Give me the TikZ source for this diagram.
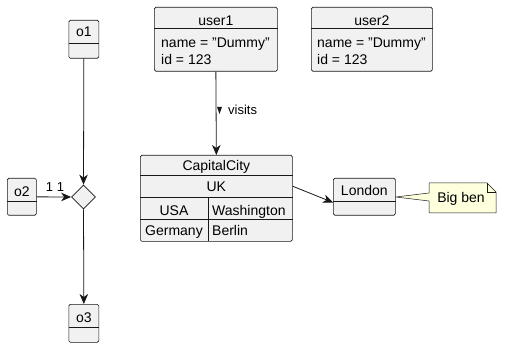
\documentclass[tikz,border=0pt]{standalone}
\usepackage{fontspec}
\setmainfont{Liberation Sans}
\usetikzlibrary{arrows.meta,shapes.geometric,calc}
\definecolor{boxfill}{HTML}{F1F1F1}
\definecolor{boxline}{HTML}{181818}
\definecolor{notefill}{HTML}{FEFFDD}
\begin{document}
\begin{tikzpicture}[x=1pt,y=-1pt,
  box/.style={draw=boxline, fill=boxfill, line width=0.7pt, inner sep=0pt, anchor=north west, rounded corners=1.5pt},
  txt/.style={inner sep=0pt, anchor=base, font=\fontsize{14}{16}\selectfont, text=black},
  ltxt/.style={txt, anchor=base west},
  sepline/.style={draw=boxline, line width=0.7pt},
  arr/.style={draw=boxline, line width=0.8pt, -{Stealth[length=10pt,width=8.5pt,inset=3pt]}},
  lbl/.style={inner sep=0pt, anchor=base west, font=\fontsize{13}{15}\selectfont, text=black}]
\useasboundingbox (0,0) rectangle (508,355);

% o1, o2, o3 and diamond
\node[box, minimum width=30pt, minimum height=38pt] (o1) at (68.5,20) {};
\draw[sepline] (o1.west |- 0,43) -- (o1.east |- 0,43);
\node[txt] (o1t) at (o1.north |- 0,37) {o1};

\node[box, minimum width=29pt, minimum height=37pt] (o2) at (7,178) {};
\draw[sepline] (o2.west |- 0,201) -- (o2.east |- 0,201);
\node[txt] (o2t) at (o2.north |- 0,197) {o2};

\node[box, minimum width=30pt, minimum height=38pt] (o3) at (68.5,304) {};
\draw[sepline] (o3.west |- 0,327) -- (o3.east |- 0,327);
\node[txt] (o3t) at (o3.north |- 0,322) {o3};

\node[draw=boxline, fill=boxfill, diamond, minimum width=24pt, minimum height=24pt, inner sep=0pt, line width=0.7pt] (dia) at (83.5,197) {};

\draw[arr] (o1.south) -- (dia.north);
\draw[arr] (o2.east) -- (dia.west);
\draw[arr] (dia.south) -- (o3.north);
\node[lbl, anchor=base] (m1) at (49.5,192) {1};
\node[lbl, anchor=base] (m2) at (60.5,192) {1};

% user1, user2
\node[box, minimum width=123pt, minimum height=64pt] (u1) at (154,7) {};
\draw[sepline] (u1.west |- 0,28) -- (u1.east |- 0,28);
\node[txt] (u1t) at (u1.north |- 0,25.5) {user1};
\node[ltxt] (u1a) at (161,48) {name = "Dummy"};
\node[ltxt] (u1b) at (161,65) {id = 123};

\node[box, minimum width=121pt, minimum height=64pt] (u2) at (311,7) {};
\draw[sepline] (u2.west |- 0,28) -- (u2.east |- 0,28);
\node[txt] (u2t) at (u2.north |- 0,25.5) {user2};
\node[ltxt] (u2a) at (317,48) {name = "Dummy"};
\node[ltxt] (u2b) at (317,65) {id = 123};

% CapitalCity map
\node[box, minimum width=152pt, minimum height=86pt] (cc) at (140,155) {};
\draw[sepline] (cc.west |- 0,175) -- (cc.east |- 0,175);
\draw[sepline] (cc.west |- 0,197) -- (cc.east |- 0,197);
\draw[sepline] (cc.west |- 0,219) -- (cc.east |- 0,219);
\draw[sepline] (208,197) -- (208,241);
\node[txt] (cct) at (cc.north |- 0,171) {CapitalCity};
\node[txt] (ccuk) at (cc.north |- 0,192) {UK};
\node[txt] (ccusa) at (174,215) {USA};
\node[ltxt] (ccwas) at (212,215) {Washington};
\node[ltxt] (ccger) at (145,236) {Germany};
\node[ltxt] (ccber) at (212,236) {Berlin};

\draw[arr] (u1.south) -- (cc.north);
\fill[boxline] (217,107) -- (222,107) -- (219.5,114) -- cycle;
\node[lbl] (vis) at (228,114.5) {visits};

% London
\node[box, minimum width=62pt, minimum height=37pt] (lon) at (333,178) {};
\draw[sepline] (lon.west |- 0,201) -- (lon.east |- 0,201);
\node[txt] (lont) at (lon.north |- 0,196) {London};

\draw[arr] ($(cc.north east)!0.36!(cc.south east)$) -- ($(lon.north west)!0.65!(lon.south west)$);

% note
\filldraw[draw=boxline, fill=notefill, line width=0.5pt, line join=round]
  (429,183) -- (487,183) -- (496,192) -- (496,213) -- (429,213) -- (429,201) -- (lon.east |- 0,197) -- (429,193) -- cycle;
\draw[draw=boxline, line width=0.5pt] (487,183) -- (487,192) -- (496,192);
\node[txt] (note) at (461,203) {Big ben};
\end{tikzpicture}
\end{document}
